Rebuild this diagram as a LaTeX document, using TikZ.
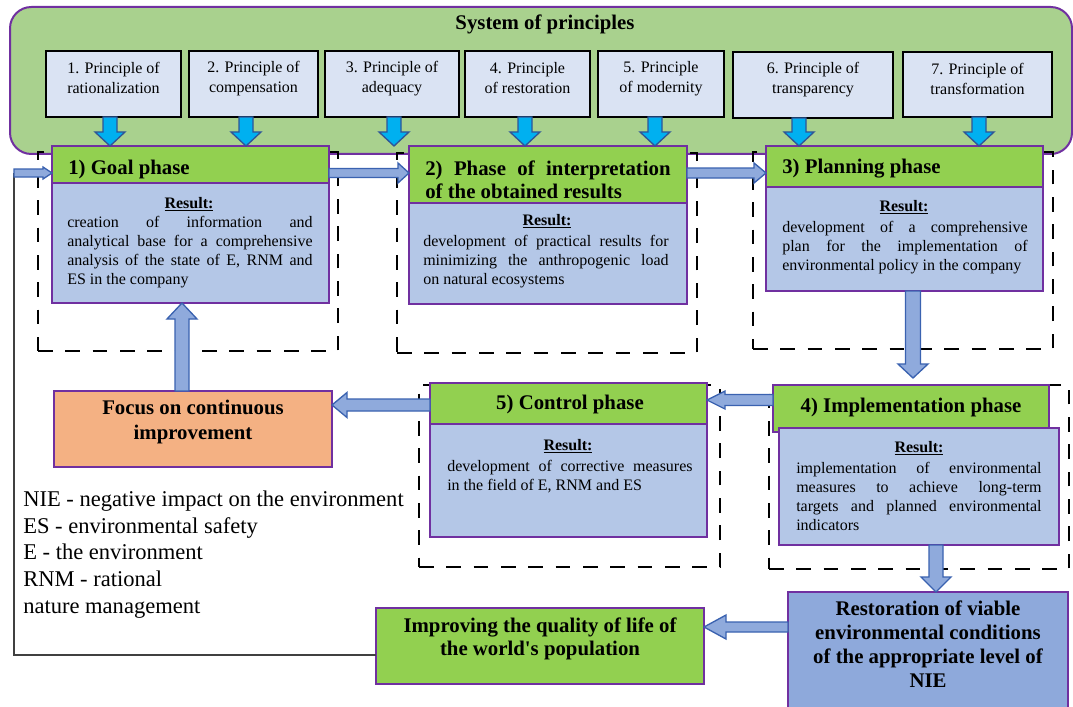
\documentclass[tikz,border=0pt]{standalone}
\usepackage{fontspec}
\setmainfont{Liberation Serif}
\usetikzlibrary{fit,calc}
\definecolor{sysgreen}{HTML}{A9D18E}
\definecolor{purp}{HTML}{7030A0}
\definecolor{prinfill}{HTML}{DAE3F3}
\definecolor{cyanarrow}{HTML}{00B0F0}
\definecolor{darkblue}{HTML}{2F5597}
\definecolor{hdrgreen}{HTML}{92D050}
\definecolor{bodyblue}{HTML}{B4C7E7}
\definecolor{arrowblue}{HTML}{8FAADC}
\definecolor{arrowedge}{HTML}{3A62B0}
\definecolor{focusorange}{HTML}{F4B183}
\definecolor{restblue}{HTML}{8EA9DB}
\definecolor{fbgray}{HTML}{404040}
% one justified line of fixed width
\newcommand\jl[1]{\makebox[184pt][s]{#1}}
\tikzset{
 plainbox/.style={inner sep=0pt, outer sep=0pt},
 sysbox/.style={plainbox, draw=purp, line width=1.5pt, fill=sysgreen, rounded corners=16pt},
 prinbox/.style={plainbox, draw=black, line width=1.1pt, fill=prinfill, align=center, font=\fontsize{12}{15}\selectfont},
 hdrbox/.style={plainbox, draw=purp, line width=0.9pt, fill=hdrgreen},
 bodybox/.style={plainbox, draw=purp, line width=0.9pt, fill=bodyblue},
 dashbox/.style={plainbox, draw=black, line width=1.6pt, dash pattern=on 11pt off 9.5pt},
 hdrtext/.style={inner sep=0pt, font=\bfseries\fontsize{15.6}{17.25}\selectfont},
 restext/.style={inner sep=0pt, font=\bfseries\fontsize{12}{14.25}\selectfont},
 bodytext/.style={inner sep=0pt, align=left, font=\fontsize{12}{14.25}\selectfont},
 legtext/.style={inner sep=0pt, align=left, font=\fontsize{16.9}{19.9}\selectfont},
 pinarrow/.style={fill=cyanarrow, draw=darkblue, line width=1pt},
 flowarrow/.style={fill=arrowblue, draw=arrowedge, line width=1pt},
 fbline/.style={draw=fbgray, line width=1pt},
}
% horizontal block arrow: style, start, tip, shaft half, head half, signed head length
\newcommand\arrH[6]{\draw[#1] ($(#2)+(0,-#4)$) -- ($(#3|-#2)+(#6,-#4)$) -- ($(#3|-#2)+(#6,-#5)$) -- (#3|-#2) -- ($(#3|-#2)+(#6,#5)$) -- ($(#3|-#2)+(#6,#4)$) -- ($(#2)+(0,#4)$) -- cycle;}
% vertical block arrow
\newcommand\arrV[6]{\draw[#1] ($(#2)+(-#4,0)$) -- ($(#2|-#3)+(-#4,#6)$) -- ($(#2|-#3)+(-#5,#6)$) -- (#2|-#3) -- ($(#2|-#3)+(#5,#6)$) -- ($(#2|-#3)+(#4,#6)$) -- ($(#2)+(#4,0)$) -- cycle;}
\begin{document}
\begin{tikzpicture}[x=0.75pt,y=-0.75pt]
\useasboundingbox (0,0) rectangle (1073,706);
\fill[white] (0,0) rectangle (1073,706);

% system of principles
\node[sysbox, fit={(10,7) (1072,154)}] (sys) {};
\node[hdrtext, anchor=base] (title) at (545,30) {System of principles};

\node[prinbox, fit={(46,51) (181,117)}] (p1) {1. Principle of\\rationalization};
\node[prinbox, fit={(189,51) (318,117)}] (p2) {2. Principle of\\compensation};
\node[prinbox, fit={(325,51) (459,117)}] (p3) {3. Principle of\\adequacy};
\node[prinbox, fit={(465,51) (590,117)}] (p4) {4. Principle\\of restoration};
\node[prinbox, fit={(598,51) (724,117)}] (p5) {5. Principle\\of modernity};
\node[prinbox, fit={(733,52) (893,118)}] (p6) {6. Principle of\\transparency};
\node[prinbox, fit={(903,52) (1052,117)}] (p7) {7. Principle of\\transformation};

% dashed frames
\node[dashbox, fit={(38,152) (338,351)}] (d1) {};
\node[dashbox, fit={(397,153) (697,353)}] (d2) {};
\node[dashbox, fit={(753,152) (1053,349)}] (d3) {};
\node[dashbox, fit={(419,385) (720,567)}] (d5) {};
\node[dashbox, fit={(769,385) (1069,569)}] (d4) {};

% phase 1
\node[hdrbox, fit={(52,146) (329,183)}] (g1h) {};
\node[bodybox, fit={(52,183) (329,303)}] (g1b) {};
\node[hdrtext, anchor=base west] (g1t) at (68,174) {1) Goal phase};
\node[restext, anchor=base] (r1) at (189,208) {\underline{Result:}};
\node[bodytext, anchor=north west] (b1) at (67,216) {\jl{creation of information and}\\\jl{analytical base for a comprehensive}\\\jl{analysis of the state of E, RNM and}\\ES in the company};

% phase 2
\node[hdrbox, fit={(409,146) (687,203)}] (g2h) {};
\node[bodybox, fit={(409,203) (687,304)}] (g2b) {};
\node[hdrtext, align=left, anchor=north west] (g2t) at (425,161) {\jl{2) Phase of interpretation}\\of the obtained results};
\node[restext, anchor=base] (r2) at (547,225) {\underline{Result:}};
\node[bodytext, anchor=north west] (b2) at (423,235) {\jl{development of practical results for}\\\jl{minimizing the anthropogenic load}\\on natural ecosystems};

% phase 3
\node[hdrbox, fit={(766,146) (1043,187)}] (g3h) {};
\node[bodybox, fit={(766,187) (1043,291)}] (g3b) {};
\node[hdrtext, anchor=base west] (g3t) at (782,173) {3) Planning phase};
\node[restext, anchor=base] (r3) at (904,211) {\underline{Result:}};
\node[bodytext, anchor=north west] (b3) at (782,221) {\jl{development of a comprehensive}\\\jl{plan for the implementation of}\\environmental policy in the company};

% phase 5 (control)
\node[hdrbox, fit={(430,383) (707,424)}] (g5h) {};
\node[bodybox, fit={(430,424) (707,537)}] (g5b) {};
\node[hdrtext, anchor=base] (g5t) at (570,409) {5) Control phase};
\node[restext, anchor=base] (r5) at (568,450) {\underline{Result:}};
\node[bodytext, anchor=north west] (b5) at (447,460) {\jl{development of corrective measures}\\in the field of E, RNM and ES};

% phase 4 (implementation)
\node[hdrbox, fit={(773,385) (1049,432)}] (g4h) {};
\node[bodybox, fit={(779,428) (1059,545)}] (g4b) {};
\node[hdrtext, anchor=base] (g4t) at (911,412) {4) Implementation phase};
\node[restext, anchor=base] (r4) at (919,452) {\underline{Result:}};
\node[bodytext, anchor=north west] (b4) at (796,462) {\jl{implementation of environmental}\\\jl{measures to achieve long-term}\\\jl{targets and planned environmental}\\indicators};

% other boxes
\node[plainbox, draw=purp, line width=0.9pt, fill=focusorange, align=center, font=\bfseries\fontsize{15.6}{18.75}\selectfont, fit={(54,391) (332,467)}] (focus) {Focus on continuous\\improvement};
\node[plainbox, draw=purp, line width=0.9pt, fill=hdrgreen, align=center, font=\bfseries\fontsize{15.6}{17.25}\selectfont, fit={(376,608) (704,684)}] (imp) {Improving the quality of life of\\the world\textquotesingle s population};
\node[plainbox, draw=purp, line width=0.9pt, fill=restblue, align=center, font=\bfseries\fontsize{15.6}{18}\selectfont, fit={(788,592) (1068,710)}] (rest) {Restoration of viable\\environmental conditions\\of the appropriate level of\\NIE};

% legend
\node[legtext, anchor=north west] (legend) at (23,491) {NIE - negative impact on the environment\\ES - environmental safety\\E - the environment\\RNM - rational\\nature management};

% feedback line
\coordinate (fb) at (14,173);
\draw[fbline] ($(imp.west)+(0,9)$) -| (fb);

% principle arrows
\coordinate (pa1) at ($(p1.south)+(-3.5,0)$);
\coordinate (pa2) at ($(p2.south)+(-7.5,0)$);
\coordinate (pa3) at ($(p3.south)+(2,0)$);
\coordinate (pa4) at ($(p4.south)+(-2.5,0)$);
\coordinate (pa5) at ($(p5.south)+(-6,0)$);
\coordinate (pa6) at ($(p6.south)+(-14,0)$);
\coordinate (pa7) at ($(p7.south)+(1.5,0)$);
\foreach \i in {1,...,7}{\arrV{pinarrow}{pa\i}{g1h.north}{7}{15}{-14}}

% flow arrows
\coordinate (a12) at ($(g1h.east)+(0,8.5)$);
\arrH{flowarrow}{a12}{g2h.west}{4.5}{10}{-11}
\coordinate (a23) at ($(g2h.east)+(0,-1.5)$);
\arrH{flowarrow}{a23}{g3h.west}{5}{10}{-12}
\coordinate (a34) at ($(g3b.south)+(8.5,0)$);
\coordinate (a34t) at ($(g4h.north)+(0,-7)$);
\arrV{flowarrow}{a34}{a34t}{7.5}{15}{-14}
\coordinate (a45) at ($(g4h.west)+(0,-8.5)$);
\arrH{flowarrow}{a45}{g5h.east}{5.5}{9}{18}
\coordinate (a5f) at ($(g5h.west)+(0,1.5)$);
\arrH{flowarrow}{a5f}{focus.east}{6}{12.5}{15}
\coordinate (af1) at ($(focus.north)+(-11,0)$);
\arrV{flowarrow}{af1}{g1b.south}{7}{15}{16}
\coordinate (a4r) at ($(g4b.south)+(17,0)$);
\arrV{flowarrow}{a4r}{rest.north}{7}{15}{-15}
\coordinate (ari) at ($(rest.north west)+(0,35)$);
\arrH{flowarrow}{ari}{imp.east}{5}{12}{22}
\arrH{flowarrow}{fb}{g1h.west}{4}{6}{-9}
\end{tikzpicture}
\end{document}
